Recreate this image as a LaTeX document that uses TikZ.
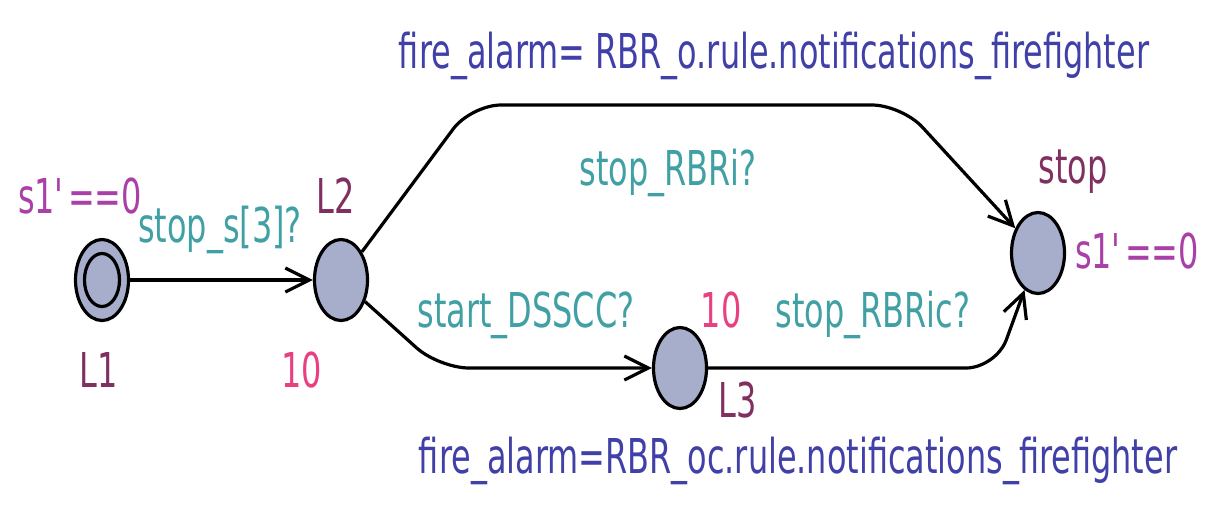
\documentclass[tikz,border=0pt]{standalone}
\usepackage{fontspec}
\setmainfont{DejaVu Sans}[FakeStretch=0.665]
\usetikzlibrary{shapes.geometric,arrows.meta}
\definecolor{locfill}{RGB}{166,174,204}
\definecolor{cinv}{RGB}{168,64,168}
\definecolor{csync}{RGB}{64,160,164}
\definecolor{cname}{RGB}{128,48,96}
\definecolor{crate}{RGB}{232,64,128}
\definecolor{cassign}{RGB}{64,64,168}
\begin{document}
\begin{tikzpicture}[x=0.5pt,y=-0.5pt,
  loc/.style={ellipse,draw=black,line width=1.6pt,fill=locfill,minimum width=26.5pt,minimum height=40.5pt,inner sep=0pt},
  inner/.style={ellipse,draw=black,line width=1.6pt,minimum width=17.5pt,minimum height=26.5pt,inner sep=0pt},
  lbl/.style={anchor=base,inner sep=0pt,font=\fontsize{24}{28}\selectfont},
  edge/.style={draw=black,line width=1.6pt,rounded corners=15pt,-{Straight Barb[length=12pt,width=12pt,line width=1.6pt]}},
  inv/.style={lbl,text=cinv},
  sync/.style={lbl,text=csync},
  lname/.style={lbl,text=cname},
  rate/.style={lbl,text=crate},
  assign/.style={lbl,text=cassign}]
\useasboundingbox (0,0) rectangle (1218,504);
\node[loc] (L1) at (102,280) {};
\node[inner] (L1i) at (102,280) {};
\node[loc] (L2) at (341,280) {};
\node[loc] (L3) at (680,368) {};
\node[loc] (stop) at (1038,253) {};
\coordinate (c1) at (471,105);
\coordinate (c2) at (902,105);
\coordinate (c3) at (439,368);
\coordinate (c4) at (996,368);
\draw[edge] (L1) -- (L2);
\draw[edge] (L2) -- (c1) -- (c2) -- (stop);
\draw[edge] (L2) -- (c3) -- (L3);
\draw[edge] (L3) -- (c4) -- (stop);
\node[inv] (t1) at (80,213) {s1\textquotesingle==0};
\node[sync] (t2) at (220,242) {stop\_s[3]?};
\node[lname] (t3) at (336,213) {L2};
\node[lname] (t4) at (99,387) {L1};
\node[rate] (t5) at (302,387) {10};
\node[assign] (t6) at (774,68) {fire\_alarm= RBR\_o.rule.notifications\_firefighter};
\node[sync] (t7) at (668,185) {stop\_RBRi?};
\node[lname] (t8) at (1073,183) {stop};
\node[inv] (t9) at (1137,268) {s1\textquotesingle==0};
\node[sync] (t10) at (526,327) {start\_DSSCC?};
\node[rate] (t11) at (721,327) {10};
\node[sync] (t12) at (873,327) {stop\_RBRic?};
\node[lname] (t13) at (738,417) {L3};
\node[assign] (t14) at (798,473) {fire\_alarm=RBR\_oc.rule.notifications\_firefighter};
\end{tikzpicture}
\end{document}
